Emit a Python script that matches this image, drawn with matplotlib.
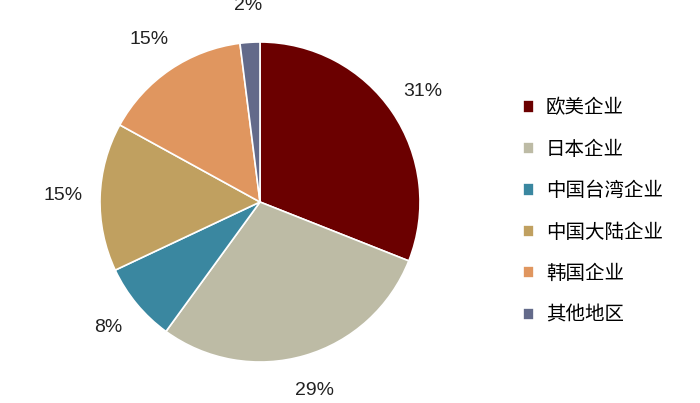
import matplotlib
matplotlib.use("Agg")
from matplotlib import pyplot as plt

plt.rcParams['font.family'] = ['Liberation Sans', 'Noto Sans CJK SC', 'DejaVu Sans']

labels = ["欧美企业", "日本企业", "中国台湾企业", "中国大陆企业", "韩国企业", "其他地区"]
values = [31, 29, 8, 15, 15, 2]
colors = ["#6B0000", "#BDBBA5", "#3A87A0", "#C0A060", "#E0965F", "#636A8A"]

fig = plt.figure(figsize=(7, 4.03), dpi=100)
ax = fig.add_axes([100 / 700, 41 / 403, 320 / 700, 320 / 403])

wedges, texts, autotexts = ax.pie(
    values, colors=colors, startangle=90, counterclock=False,
    autopct=lambda p: f"{p:.0f}%", pctdistance=1.23,
    wedgeprops=dict(edgecolor="white", linewidth=1.2),
    textprops=dict(fontsize=14, color="#222222"))
ax.set_aspect("equal")
ax.set_xlim(-1, 1)
ax.set_ylim(-1, 1)

leg = fig.legend(wedges, labels, loc="upper left", bbox_to_anchor=(505 / 700, 1 - 80 / 403),
                 frameon=False, fontsize=14, handlelength=0.6, handleheight=0.6,
                 labelspacing=1.05, handletextpad=0.6)
for t in leg.get_texts():
    t.set_family(['Noto Sans CJK SC', 'DejaVu Sans'])

fig.savefig("out.png", dpi=100)
